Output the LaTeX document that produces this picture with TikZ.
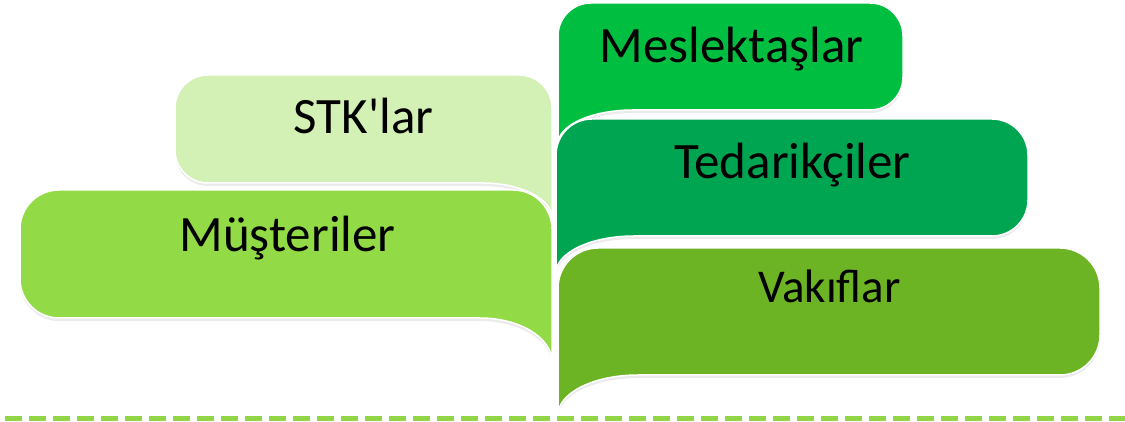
\documentclass[tikz,border=0pt]{standalone}
\usepackage{fontspec}
\usepackage{tikz}
\usetikzlibrary{shadows}
\newfontfamily\labelfont{Carlito}
\definecolor{stkgreen}{RGB}{211,241,181}
\definecolor{musgreen}{RGB}{146,219,70}
\definecolor{mesgreen}{RGB}{0,191,64}
\definecolor{tedgreen}{RGB}{0,165,81}
\definecolor{vakgreen}{RGB}{108,180,35}
\definecolor{dashgreen}{RGB}{146,214,72}

\begin{document}
\begin{tikzpicture}[line cap=round,line join=round,x=1pt,y=1pt,
  bubble/.style={draw=white,line width=1.5pt,
    drop shadow={shadow xshift=0pt,shadow yshift=-3pt,fill=black!8,opacity=1}},
  caption/.style={anchor=base,inner sep=0pt,text=black,
    font=\labelfont\fontsize{51}{60}\selectfont}]
\useasboundingbox (0,0) rectangle (1125,422);

% left side, tail at the right
\path[bubble,fill=stkgreen] (175,272) -- (175,314) arc[start angle=180,end angle=90,radius=33]
  -- (519,347) arc[start angle=90,end angle=0,radius=33]
  -- (552,204) arc[start angle=0,end angle=90,x radius=70,y radius=35]
  -- (208,239) arc[start angle=270,end angle=180,radius=33] -- cycle;
\path[bubble,fill=musgreen] (20,143) -- (20,193) arc[start angle=180,end angle=90,radius=39]
  -- (513,232) arc[start angle=90,end angle=0,radius=39]
  -- (552,60) arc[start angle=0,end angle=90,x radius=72,y radius=44]
  -- (59,104) arc[start angle=270,end angle=180,radius=39] -- cycle;

% right side, tail at the left
\path[bubble,fill=mesgreen] (558,278) -- (558,386) arc[start angle=180,end angle=90,radius=33]
  -- (870,419) arc[start angle=90,end angle=0,radius=33]
  -- (903,345) arc[start angle=0,end angle=-90,radius=33]
  -- (633,312) arc[start angle=90,end angle=180,x radius=75,y radius=34] -- cycle;
\path[bubble,fill=tedgreen] (556,149) -- (556,267) arc[start angle=180,end angle=90,radius=36]
  -- (992,303) arc[start angle=90,end angle=0,radius=36]
  -- (1028,222) arc[start angle=0,end angle=-90,radius=36]
  -- (634,186) arc[start angle=90,end angle=180,x radius=78,y radius=37] -- cycle;
\path[bubble,fill=vakgreen] (558,7) -- (558,134) arc[start angle=180,end angle=90,radius=40]
  -- (1060,174) arc[start angle=90,end angle=0,radius=40]
  -- (1100,87) arc[start angle=0,end angle=-90,radius=40]
  -- (638,47) arc[start angle=90,end angle=180,x radius=80,y radius=40] -- cycle;

\draw[dashgreen,line cap=butt,line width=5pt,dash pattern=on 17pt off 7pt] (5,3) -- (1125,3);

\node[caption] (stk) at (363.5,288) {STK'lar};
\node[caption] (mus) at (287.5,170) {Müşteriler};
\node[caption] (mes) at (731.5,359) {Meslektaşlar};
\node[caption] (ted) at (792.5,243) {Tedarikçiler};
\node[caption,font=\labelfont\fontsize{47}{55}\selectfont] (vak) at (829.5,119) {Vakıflar};
\end{tikzpicture}
\end{document}
